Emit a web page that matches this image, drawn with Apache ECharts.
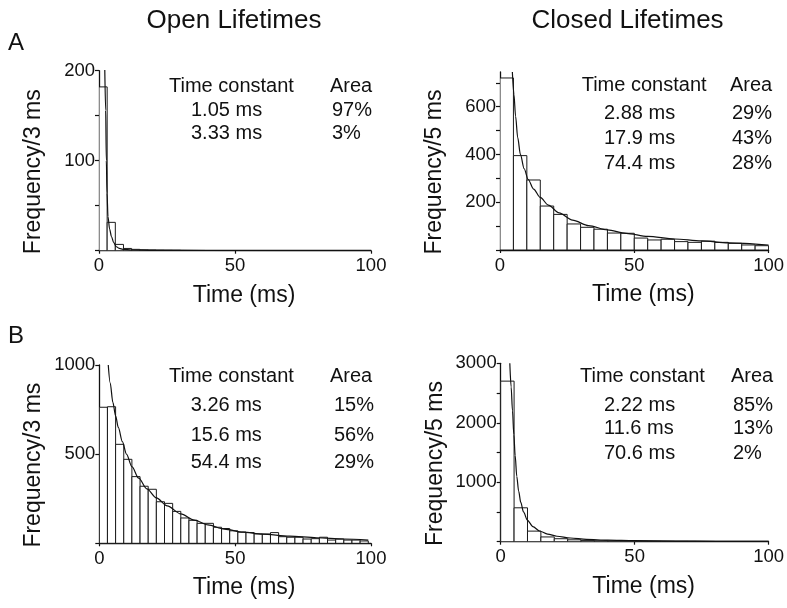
<!DOCTYPE html>
<html>
<head>
<meta charset="utf-8">
<script src="https://cdn.jsdelivr.net/npm/echarts@6/dist/echarts.min.js"></script>
<style>
  html, body { margin: 0; padding: 0; background: #ffffff; }
  #chart { width: 787px; height: 608px; }
</style>
</head>
<body>
<div id="chart"></div>
<script>
// ---- Dwell-time histograms (counts per bin) and fitted exponential curves ----

// A, open lifetimes: 3 ms bins
const openA_binWidth = 3;
const openA_counts = [182, 31.5, 7, 2.5, 1.5, 1, 0.8, 0.6, 0.5, 0.4];
const openA_fit = [[2.1, 206], [2.45, 156], [2.7, 100], [2.95, 64], [3.3, 38], [3.9, 24], [4.6, 15.5],
  [5.4, 9], [6.4, 4.4], [7.5, 2.5], [8.8, 1.5], [12, 0.8], [20, 0.4], [40, 0.2], [100, 0]];
const openA_tau = ['1.05 ms', '3.33 ms'];
const openA_area = ['97%', '3%'];

// A, closed lifetimes: 5 ms bins
const closedA_binWidth = 5;
const closedA_counts = [720, 395, 293, 184, 149, 109, 95, 87, 71, 70, 50, 42, 45, 35, 32, 37, 32, 28, 21, 18];
const closedA_fit = [[4.6, 745], [5.2, 650], [5.8, 560], [6.6, 470], [7.6, 400], [9, 340], [10.5, 295],
  [12.5, 255], [15, 220], [18, 188], [22, 155], [27, 125], [33, 102], [40, 84], [47, 70], [55, 57],
  [65, 46], [75, 38], [85, 30], [100, 21]];
const closedA_tau = ['2.88 ms', '17.9 ms', '74.4 ms'];
const closedA_area = ['29%', '43%', '28%'];

// B, open lifetimes: 3 ms bins
const openB_binWidth = 3;
const openB_counts = [763, 766, 555, 471, 374, 320, 303, 233, 224, 179, 142, 129, 112, 112, 90, 83, 70,
  63, 60, 53, 52, 60, 37, 34, 34, 24, 26, 34, 18, 24, 18, 18, 13];
const openB_fit = [[3.3, 1000], [4, 900], [5, 790], [6, 715], [7, 650], [8.5, 570], [10, 500], [12, 430],
  [14.5, 365], [17.5, 305], [21, 255], [25, 210], [30, 165], [35, 130], [40, 103], [46, 80], [53, 63],
  [60, 52], [70, 40], [80, 31], [90, 24], [99, 18]];
const openB_tau = ['3.26 ms', '15.6 ms', '54.4 ms'];
const openB_area = ['15%', '56%', '29%'];

// B, closed lifetimes: 5 ms bins
const closedB_binWidth = 5;
const closedB_counts = [2700, 570, 178, 80, 50, 32, 22, 16, 12, 10, 8, 7, 6, 5, 4, 4, 3, 3, 2, 2];
const closedB_fit = [[3.4, 3000], [3.9, 2600], [4.4, 2200], [4.9, 1800], [5.4, 1450], [6, 1100],
  [6.7, 850], [7.5, 660], [8.5, 500], [10, 360], [12, 255], [14.5, 180], [17.5, 128], [21, 92],
  [26, 62], [32, 40], [40, 26], [50, 17], [65, 11], [80, 7], [100, 4]];
const closedB_tau = ['2.22 ms', '11.6 ms', '70.6 ms'];
const closedB_area = ['85%', '13%', '2%'];

// Axis ticks and labels
const timeTicks = [0, 50, 100];
const openA_yTicks = [0, 50, 100, 150, 200];
const openA_yLabels = [100, 200];
const closedA_yTicks = [0, 100, 200, 300, 400, 500, 600, 700];
const closedA_yLabels = [200, 400, 600];
const openB_yTicks = [0, 500, 1000];
const openB_yLabels = [500, 1000];
const closedB_yTicks = [0, 500, 1000, 1500, 2000, 2500, 3000];
const closedB_yLabels = [1000, 2000, 3000];

// ---- Layout and styling ----
const FONT = '"Liberation Sans", Arial, Helvetica, sans-serif';
const INK = '#111111';

const panels = [
  { grid: { left: 99, top: 70.7, width: 272, height: 180 }, yMax: 200,
    counts: openA_counts, bin: openA_binWidth, fit: openA_fit,
    yTicks: openA_yTicks, yLabels: openA_yLabels, yName: 'Frequency/3 ms' },
  { grid: { left: 500, top: 72, width: 272.3, height: 178 }, yMax: 745,
    counts: closedA_counts, bin: closedA_binWidth, fit: closedA_fit,
    yTicks: closedA_yTicks, yLabels: closedA_yLabels, yName: 'Frequency/5 ms' },
  { grid: { left: 99.3, top: 365, width: 271.7, height: 178.3 }, yMax: 1000,
    counts: openB_counts, bin: openB_binWidth, fit: openB_fit,
    yTicks: openB_yTicks, yLabels: openB_yLabels, yName: 'Frequency/3 ms' },
  { grid: { left: 500.7, top: 363.3, width: 271, height: 178.4 }, yMax: 3000,
    counts: closedB_counts, bin: closedB_binWidth, fit: closedB_fit,
    yTicks: closedB_yTicks, yLabels: closedB_yLabels, yName: 'Frequency/5 ms' }
];

const axisLine = { show: true, lineStyle: { color: INK, width: 1.3 } };
const plain = function (v) { return String(v); };

const grids = [], xAxes = [], yAxes = [], series = [];
panels.forEach(function (p, i) {
  grids.push(Object.assign({ containLabel: false }, p.grid));
  xAxes.push({
    type: 'value', gridIndex: i, min: 0, max: 100, interval: 50,
    axisLine: axisLine,
    axisTick: { show: true, length: 3, lineStyle: { color: INK, width: 1.2 }, customValues: timeTicks },
    axisLabel: { color: INK, fontFamily: FONT, fontSize: 18.5, margin: 6, formatter: plain, customValues: timeTicks },
    splitLine: { show: false },
    name: 'Time (ms)', nameLocation: 'middle', nameGap: 33,
    nameTextStyle: { color: INK, fontFamily: FONT, fontSize: 23, padding: [0, 0, 0, 18] }
  });
  yAxes.push({
    type: 'value', gridIndex: i, min: 0, max: p.yMax,
    axisLine: axisLine,
    axisTick: { show: true, length: 4, lineStyle: { color: INK, width: 1.2 }, customValues: p.yTicks },
    axisLabel: { color: INK, fontFamily: FONT, fontSize: 18.5, margin: 4, formatter: plain, customValues: p.yLabels },
    splitLine: { show: false },
    name: p.yName, nameLocation: 'middle', nameGap: 54,
    nameTextStyle: { color: INK, fontFamily: FONT, fontSize: 23, padding: [0, 22, 0, 0] }
  });
  // histogram bins: [bin start, count]
  const binData = p.counts.map(function (c, k) { return [k * p.bin, c]; });
  series.push({
    type: 'custom', xAxisIndex: i, yAxisIndex: i, data: binData, clip: true, z: 2,
    renderItem: (function (w) {
      return function (params, api) {
        const x0 = api.value(0);
        const base = api.coord([x0, 0]);
        const top = api.coord([x0 + w, api.value(1)]);
        return {
          type: 'rect',
          shape: { x: base[0], y: top[1], width: top[0] - base[0], height: base[1] - top[1] },
          style: { fill: '#ffffff', stroke: '#1a1a1a', lineWidth: 1 }
        };
      };
    })(p.bin)
  });
  series.push({
    type: 'line', xAxisIndex: i, yAxisIndex: i, data: p.fit, z: 3,
    smooth: 0.3, smoothMonotone: 'x', showSymbol: false, clip: true,
    lineStyle: { color: INK, width: 1.2 }
  });
});

// ---- Titles, panel letters and fit-parameter tables ----
function txt(x, y, s, size, align) {
  return { type: 'text', x: x, y: y, z: 10,
    style: { text: s, fill: INK, font: size + 'px ' + FONT, align: align || 'left', verticalAlign: 'middle' } };
}
const graphics = [
  txt(234, 21, 'Open Lifetimes', 26, 'center'),
  txt(627.5, 21, 'Closed Lifetimes', 26, 'center'),
  txt(8, 43.5, 'A', 24),
  txt(8, 336.5, 'B', 24)
];
function table(hx, areaX, valX, pctX, pctAlign, headY, rowYs, taus, areas) {
  graphics.push(txt(hx, headY, 'Time constant', 20));
  graphics.push(txt(areaX, headY, 'Area', 20));
  taus.forEach(function (t, k) {
    graphics.push(txt(valX, rowYs[k], t, 20));
    graphics.push(txt(pctX, rowYs[k], areas[k], 20, pctAlign));
  });
}
table(169, 330, 191, 332, 'left', 86, [110.8, 133.8], openA_tau, openA_area);
table(581.7, 730, 604, 772, 'right', 85, [113.7, 138.7, 163.3], closedA_tau, closedA_area);
table(169, 330, 190.7, 374, 'right', 376.3, [405.8, 435, 462.5], openB_tau, openB_area);
table(580, 731, 604, 733, 'left', 376.3, [405, 428, 453], closedB_tau, closedB_area);

const chart = echarts.init(document.getElementById('chart'), null, { renderer: 'canvas' });
chart.setOption({
  backgroundColor: '#ffffff',
  animation: false,
  grid: grids,
  xAxis: xAxes,
  yAxis: yAxes,
  series: series,
  graphic: graphics
});
</script>
</body>
</html>
